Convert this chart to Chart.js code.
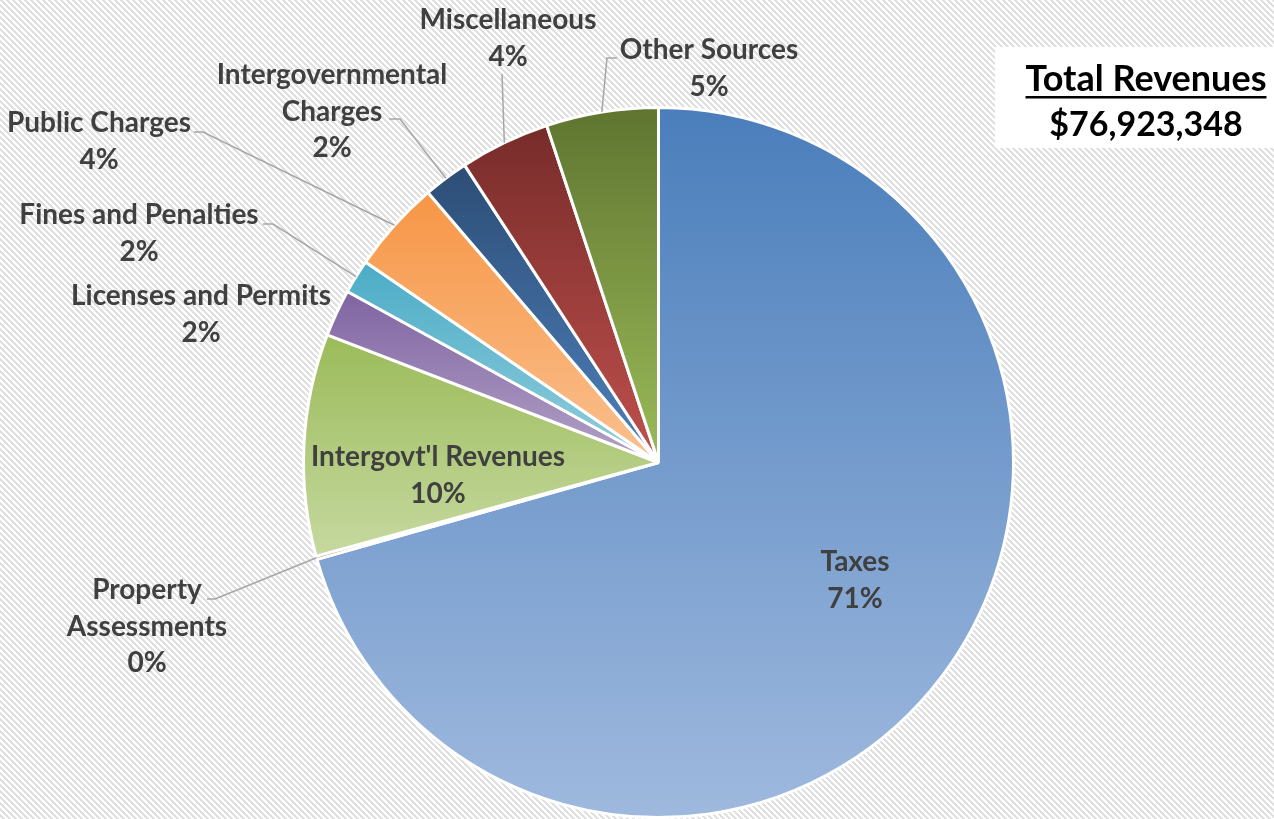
<!DOCTYPE html>
<html>
<head>
<meta charset="utf-8">
<title>Total Revenues</title>
<script src="https://cdn.jsdelivr.net/npm/chart.js@4.4.1/dist/chart.umd.min.js"></script>
<style>
  html, body { margin: 0; padding: 0; background: #ffffff; }
  #wrap { position: relative; width: 1274px; height: 819px; }
</style>
</head>
<body>
<div id="wrap"><canvas id="revenueChart"></canvas></div>
<script>
// revenue sources, in the order they go round the pie (clockwise from 12 o'clock)
const categories = [
    'Taxes',
    ['Property', 'Assessments'],
    "Intergovt'l Revenues",
    'Licenses and Permits',
    'Fines and Penalties',
    'Public Charges',
    ['Intergovernmental', 'Charges'],
    'Miscellaneous',
    'Other Sources'
];
const amounts = [54307883, 115385, 7769258, 1653852, 1192312, 3230781, 1576929, 3153857, 3923091];
const totalTitle = 'Total Revenues';

// top / bottom colour of each slice's gradient
const sliceColors = [
    ['#4a7ebb', '#9fb9de'],
    ['#943634', '#c0504d'],
    ['#9bbb59', '#c6d9a0'],
    ['#8064a2', '#b3a2c7'],
    ['#4bacc6', '#93cddd'],
    ['#f79646', '#fac08f'],
    ['#2c4d75', '#4f81bd'],
    ['#772c2a', '#c0504d'],
    ['#5f7530', '#9bbb59']
];

// where each label goes (centre of first line) and the elbow of its leader line
const labelLayout = [
    {x: 855, y: 562},
    {x: 147, y: 590, leader: [[207, 599], [215, 599]]},
    {x: 438, y: 457},
    {x: 201, y: 296},
    {x: 139, y: 215, leader: [[263, 224], [273, 224]]},
    {x: 99, y: 123, leader: [[194, 132], [203, 132]]},
    {x: 332, y: 75, leader: [[389, 119], [400, 119]]},
    {x: 508, y: 20, leader: [[502, 74]]},
    {x: 709, y: 50, leader: [[617, 58], [607, 58]]}
];

const FONT = 'Lato, "Open Sans", sans-serif';
const total = amounts.reduce((a, b) => a + b, 0);

// small diagonal hatch for the chart background
function hatchPattern(ctx) {
    const tile = document.createElement('canvas');
    tile.width = 6;
    tile.height = 6;
    const t = tile.getContext('2d');
    t.fillStyle = '#ffffff';
    t.fillRect(0, 0, 6, 6);
    t.fillStyle = '#e0e0e0';
    for (let y = 0; y < 6; y++) {
        for (let x = 0; x < 6; x++) {
            if ((x - y + 6) % 6 < 3) t.fillRect(x, y, 1, 1);
        }
    }
    return ctx.createPattern(tile, 'repeat');
}

function sliceFill(context) {
    const i = context.dataIndex;
    if (i === undefined) return sliceColors[0][0];
    const chart = context.chart;
    const area = chart.chartArea;
    if (!area) return sliceColors[i][0];
    const ctrl = chart.getDatasetMeta(0).controller;
    const r = ctrl.outerRadius || Math.min(area.width, area.height) / 2;
    const cy = (area.top + area.bottom) / 2;

    // vertical extent of the slice, angles clockwise from the top
    let start = 0;
    for (let k = 0; k < i; k++) start += amounts[k] / total * 2 * Math.PI;
    const end = start + amounts[i] / total * 2 * Math.PI;
    const ys = [cy];
    for (let s = 0; s <= 90; s++) {
        const a = start + (end - start) * s / 90;
        ys.push(cy - r * Math.cos(a));
    }
    const top = Math.min(...ys);
    const bottom = Math.max(...ys);
    const g = chart.ctx.createLinearGradient(0, top, 0, bottom + 0.5);
    g.addColorStop(0, sliceColors[i][0]);
    g.addColorStop(1, sliceColors[i][1]);
    return g;
}

const sliceLabels = {
    id: 'sliceLabels',
    beforeDraw(chart) {
        const ctx = chart.ctx;
        ctx.save();
        ctx.fillStyle = hatchPattern(ctx);
        ctx.fillRect(0, 0, chart.width, chart.height);
        ctx.restore();
    },
    afterDatasetsDraw(chart) {
        const ctx = chart.ctx;
        const arcs = chart.getDatasetMeta(0).data;
        ctx.save();
        arcs.forEach((arc, i) => {
            const pos = labelLayout[i];
            if (pos.leader) {
                const mid = (arc.startAngle + arc.endAngle) / 2;
                const ex = arc.x + Math.cos(mid) * arc.outerRadius;
                const ey = arc.y + Math.sin(mid) * arc.outerRadius;
                ctx.beginPath();
                ctx.moveTo(pos.leader[0][0], pos.leader[0][1]);
                pos.leader.slice(1).forEach(p => ctx.lineTo(p[0], p[1]));
                ctx.lineTo(ex, ey);
                ctx.strokeStyle = '#a6a6a6';
                ctx.lineWidth = 1.5;
                ctx.stroke();
            }
            const pct = Math.round(amounts[i] / total * 100) + '%';
            const lines = [].concat(categories[i], pct);
            ctx.fillStyle = '#404040';
            ctx.font = 'bold 28px ' + FONT;
            ctx.textAlign = 'center';
            ctx.textBaseline = 'middle';
            lines.forEach((t, n) => ctx.fillText(t, pos.x, pos.y + n * 36.5));
        });
        ctx.restore();
    },
    afterDraw(chart) {
        // total box in the top right corner
        const ctx = chart.ctx;
        ctx.save();
        ctx.fillStyle = '#ffffff';
        ctx.fillRect(995, 47, 279, 101);
        ctx.fillStyle = '#000000';
        ctx.textAlign = 'center';
        ctx.textBaseline = 'middle';
        ctx.font = 'bold 36px ' + FONT;
        ctx.fillText(totalTitle, 1146, 79);
        const w = ctx.measureText(totalTitle).width;
        ctx.fillRect(1146 - w / 2, 96, w, 2.5);
        ctx.font = 'bold 34px ' + FONT;
        ctx.fillText('$' + total.toLocaleString('en-US'), 1146, 125);
        ctx.restore();
    }
};

new Chart(document.getElementById('revenueChart'), {
    type: 'pie',
    data: {
        labels: categories,
        datasets: [{
            data: amounts,
            backgroundColor: sliceFill,
            borderColor: '#ffffff',
            borderWidth: 3,
            hoverOffset: 0
        }]
    },
    options: {
        responsive: true,
        maintainAspectRatio: false,
        animation: false,
        events: [],
        layout: {padding: {left: 302, right: 259, top: 106, bottom: 0}},
        plugins: {
            legend: {display: false},
            tooltip: {enabled: false}
        }
    },
    plugins: [sliceLabels]
});
</script>
</body>
</html>
